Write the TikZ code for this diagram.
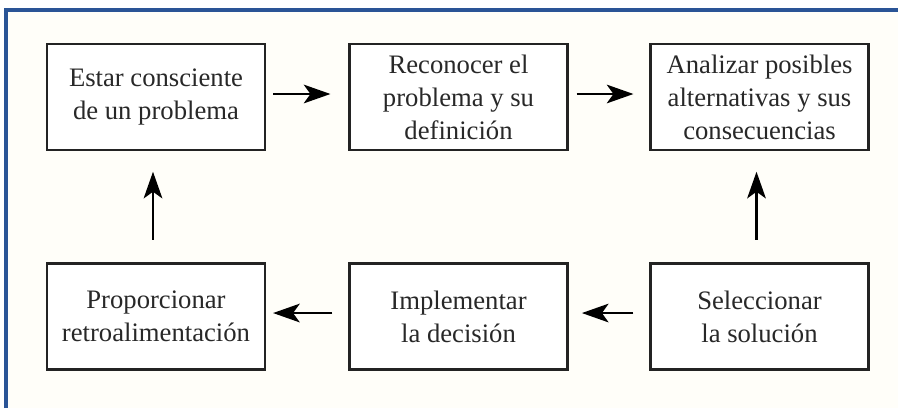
\documentclass[tikz,border=0pt]{standalone}
\usepackage{fontspec}
\setmainfont{Liberation Serif}
\usetikzlibrary{arrows.meta}
\definecolor{framecol}{RGB}{42,84,150}
\definecolor{txtcol}{RGB}{40,40,40}
\definecolor{boxline}{RGB}{35,35,35}
\definecolor{paper}{RGB}{255,254,249}
\begin{document}
\begin{tikzpicture}[x=0.75pt,y=-0.75pt,
  stepbox/.style={draw=boxline,line width=1.6pt,fill=white,minimum width=163.5pt,minimum height=79.5pt,
    inner sep=0pt,align=center,text=txtcol,font=\fontsize{20}{24.8}\selectfont},
  arr/.style={-{Stealth[length=20pt,width=14pt,inset=5pt]},line width=1.6pt,black}]
\useasboundingbox (0,0) rectangle (898,408);
\fill[white] (0,0) rectangle (898,408);
\fill[paper] (6,10) rectangle (898,408);
\draw[framecol,line width=2.6pt] (6,408) -- (6,10) -- (898,10);
\node[stepbox] (b1) at (156,97) {Estar consciente\\de un problema};
\node[stepbox] (b2) at (458.5,97) {Reconocer el\\problema y su\\definición};
\node[stepbox] (b3) at (759.5,97) {Analizar posibles\\alternativas y sus\\consecuencias};
\node[stepbox] (b4) at (156,316.5) {Proporcionar\\retroalimentación};
\node[stepbox] (b5) at (458.5,316.5) {Implementar\\la decisión};
\node[stepbox] (b6) at (759.5,316.5) {Seleccionar\\la solución};
\draw[arr] ([xshift=5.25pt,yshift=2.25pt]b1.east) -- ([xshift=-13.5pt,yshift=2.25pt]b2.west);
\draw[arr] ([xshift=6pt,yshift=2.25pt]b2.east) -- ([xshift=-12pt,yshift=2.25pt]b3.west);
\draw[arr] ([xshift=-2.25pt,yshift=17pt]b6.north) -- ([xshift=-2.25pt,yshift=-15.5pt]b3.south);
\draw[arr] ([xshift=-12pt,yshift=2.6pt]b6.west) -- ([xshift=10pt,yshift=2.6pt]b5.east);
\draw[arr] ([xshift=-12pt,yshift=2.6pt]b5.west) -- ([xshift=5.25pt,yshift=2.6pt]b4.east);
\draw[arr] ([xshift=-2.25pt,yshift=17pt]b4.north) -- ([xshift=-2.25pt,yshift=-15.5pt]b1.south);
\end{tikzpicture}
\end{document}
